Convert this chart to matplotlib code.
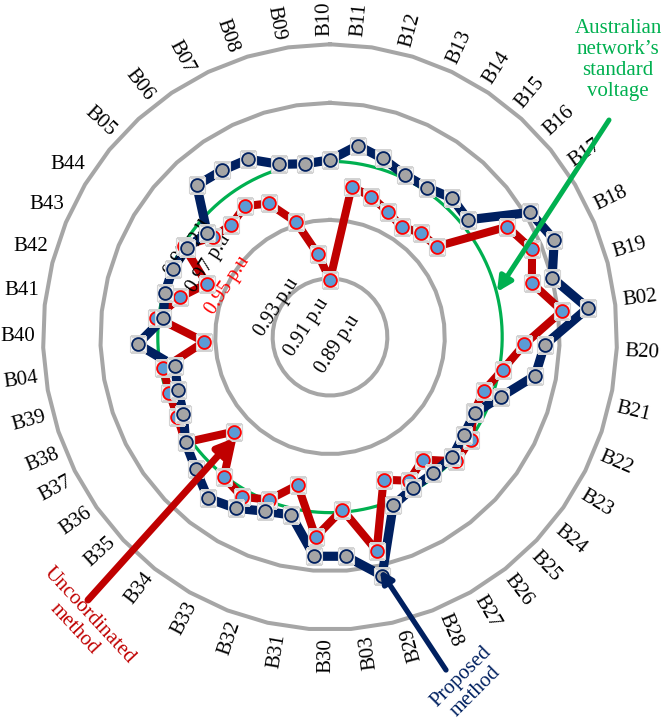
import numpy as np
import matplotlib
matplotlib.use('Agg')
import matplotlib.pyplot as plt

plt.rcParams['font.family'] = ['Liberation Serif', 'DejaVu Serif']

categories = ['B10', 'B11', 'B12', 'B13', 'B14', 'B15', 'B16', 'B17', 'B18', 'B19',
              'B02', 'B20', 'B21', 'B22', 'B23', 'B24', 'B25', 'B26', 'B27', 'B28',
              'B29', 'B03', 'B30', 'B31', 'B32', 'B33', 'B34', 'B35', 'B36', 'B37',
              'B38', 'B39', 'B04', 'B40', 'B41', 'B42', 'B43', 'B44', 'B05', 'B06',
              'B07', 'B08', 'B09']

proposed = [0.9505, 0.9561, 0.9537, 0.9512, 0.9512, 0.9537, 0.9526, 0.9717, 0.9749, 0.9700,
            0.9804, 0.9648, 0.9627, 0.9530, 0.9467, 0.9474, 0.9491, 0.9488, 0.9491, 0.9516,
            0.9735, 0.9651, 0.9651, 0.9523, 0.9537, 0.9571, 0.9596, 0.9550, 0.9519, 0.9474,
            0.9460, 0.9450, 0.9571, 0.9484, 0.9495, 0.9495, 0.9484, 0.9457, 0.9596, 0.9582,
            0.9571, 0.9516, 0.9498]

uncoordinated = [0.9095, 0.9418, 0.9401, 0.9373, 0.9352, 0.9376, 0.9383, 0.9623, 0.9665, 0.9627,
                 0.9714, 0.9578, 0.9512, 0.9467, 0.9463, 0.9502, 0.9512, 0.9429, 0.9463, 0.9422,
                 0.9648, 0.9491, 0.9585, 0.9418, 0.9495, 0.9526, 0.9505, 0.9366, 0.9519, 0.9498,
                 0.9491, 0.9491, 0.9338, 0.9509, 0.9439, 0.9366, 0.9498, 0.9432, 0.9415, 0.9436,
                 0.9404, 0.9310, 0.9185]

ring_values = [0.91, 0.93, 0.97, 0.99]
standard_voltage = 0.95
axis_labels = ['0.89 p.u', '0.91 p.u', '0.93 p.u', '0.95 p.u', '0.97 p.u', '0.99 p.u']

W, H = 663, 724
fig = plt.figure(figsize=(W / 100, H / 100), dpi=100)
cx, cy = 330, 337
R = 300
SY = 1.02
ax = fig.add_axes([(cx - R) / W, (H - cy - R * SY) / H, 2 * R / W, 2 * R * SY / H],
                  projection='polar')
ax.set_aspect('auto')
ax.set_theta_zero_location('N')
ax.set_theta_direction(-1)
r0 = 0.89
rmax = r0 + R / 287.0 * (0.99 - 0.89)
ax.set_ylim(r0, rmax)
ax.set_axis_off()

n = len(categories)
theta = 2 * np.pi * np.arange(n) / n
tc = np.append(theta, theta[0])

# gridline polygons
for v in ring_values:
    ax.plot(tc, [v] * (n + 1), color='#A6A6A6', lw=2.9, zorder=1, solid_joinstyle='miter')

# standard voltage circle
tt = np.linspace(0, 2 * np.pi, 500)
ax.plot(tt, np.full_like(tt, standard_voltage), color='#00B050', lw=2.3, zorder=2)

def series(vals, line_c, lw, face, edge, zl, zm):
    vc = np.append(vals, vals[0])
    ax.plot(tc, vc, color=line_c, lw=lw, zorder=zl, solid_joinstyle='miter')
    ax.plot(theta, vals, ls='none', marker='s', ms=12, mfc='#F2F2F2', mec='#D3D3D3',
            mew=0.8, zorder=zm)
    ax.plot(theta, vals, ls='none', marker='o', ms=9.2, mfc=face, mec=edge,
            mew=1.3, zorder=zm + 0.05)

series(uncoordinated, '#C00000', 5.8, '#5B9BD5', '#FF0000', 2.4, 3.0)
series(proposed, '#002060', 6.6, '#A5A5A5', '#002060', 2.6, 3.2)

# category labels (hand-placed in the original: small angular shifts)
shift_at = [-180, -161, -152, -136, -119, -94, -77, -61, -52, -36, -19, -10, 0, 15, 31, 48,
            65, 82, 90, 107, 123, 140, 157]
shift_deg = [6, 4, 1, -1.5, 1.5, 3.5, 2.5, 1, -0.5, -4, -4.5, -3, 0, 1.7, 4, 2,
             0.5, 3, 1, 2.4, 4, 7, 6.5]
lab_r = r0 + 312 / 287.0 * 0.10
for name, t in zip(categories, theta):
    a_u = 90 - np.degrees(t)
    a_u = (a_u + 180) % 360 - 180
    shift = np.interp(a_u, shift_at, shift_deg, period=360)
    tl = t - np.radians(shift)
    a = 90 - np.degrees(tl)
    a = (a + 180) % 360 - 180
    if 140 <= a <= 180 or a < -178:
        rot = 0
    elif a > 96:
        rot = a - 180
    elif a < -72:
        rot = a + 180
    else:
        rot = a
    ax.text(tl, lab_r, name, fontsize=15, ha='center', va='center',
            rotation=rot, rotation_mode='anchor', zorder=6)

def px(x, y):
    return (x, H - y)

# radial value labels (above the lines, beneath the markers)
val_pos = [(338, 344), (307, 327), (277, 307), (228, 285), (209, 263), (187, 247)]
for lab, (x, y) in zip(axis_labels, val_pos):
    col = '#FF0000' if lab.startswith('0.95') else 'black'
    ax.text(x / W, 1 - y / H, lab, transform=fig.transFigure, fontsize=14.5, color=col,
            ha='center', va='center', rotation=57, rotation_mode='anchor', zorder=2.8)

# annotations
fig.text(618 / W, 1 - 60 / H, 'Australian\nnetwork\u2019s\nstandard\nvoltage', color='#00B050',
         fontsize=15, ha='center', va='center', linespacing=1.15)
ax.annotate('', xy=px(497, 292), xycoords='figure pixels', xytext=px(609, 120),
            textcoords='figure pixels',
            arrowprops=dict(arrowstyle='-|>', color='#00B050', lw=3.6, mutation_scale=22,
                            shrinkA=0, shrinkB=0), zorder=8)

ax.annotate('', xy=px(234, 438), xycoords='figure pixels', xytext=px(88, 600),
            textcoords='figure pixels',
            arrowprops=dict(arrowstyle='-|>', color='#C00000', lw=5, mutation_scale=24,
                            shrinkA=0, shrinkB=0), zorder=8)
fig.text(82 / W, 1 - 622 / H, 'Uncoordinated\nmethod', color='#C00000', fontsize=15,
         ha='center', va='center', rotation=-47, rotation_mode='anchor', linespacing=1.1)

ax.annotate('', xy=px(380, 570), xycoords='figure pixels', xytext=px(446, 670),
            textcoords='figure pixels',
            arrowprops=dict(arrowstyle='-|>', color='#002060', lw=3.8, mutation_scale=18,
                            shrinkA=0, shrinkB=0), zorder=8)
fig.text(468 / W, 1 - 684 / H, 'Proposed\nmethod', color='#002060', fontsize=15,
         ha='center', va='center', rotation=45, rotation_mode='anchor', linespacing=1.1)

fig.savefig('out.png', dpi=100)
